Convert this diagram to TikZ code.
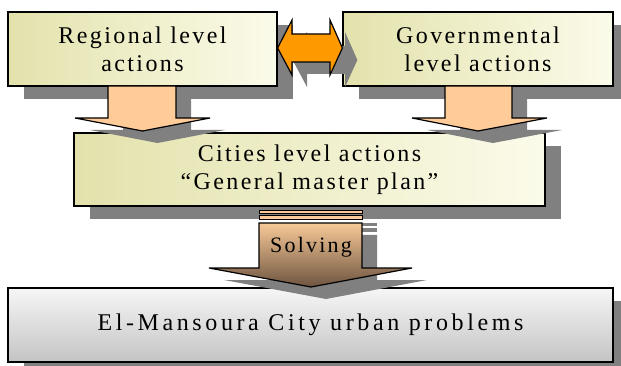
\documentclass[tikz,border=0pt]{standalone}
\usepackage{fontspec}
\setmainfont{Liberation Serif}
\newfontfamily\dfont[LetterSpace=10]{Liberation Serif}
\newfontfamily\dfontw[LetterSpace=15]{Liberation Serif}
\usetikzlibrary{shadows}
\definecolor{shadowgray}{HTML}{808080}
\definecolor{boxL}{HTML}{E3E2AC}
\definecolor{boxR}{HTML}{FBFBEA}
\definecolor{greyT}{HTML}{F6F6F6}
\definecolor{greyB}{HTML}{C4C4C4}
\definecolor{peach}{HTML}{FFCC99}
\definecolor{orangeA}{HTML}{FF9900}
\definecolor{solvT}{HTML}{F7C998}
\definecolor{solvB}{HTML}{6E5440}
\begin{document}
\begin{tikzpicture}[x=1pt,y=-1pt,
  shad/.style={drop shadow={shadow xshift=16pt, shadow yshift=-13pt, fill=shadowgray, opacity=1}},
  ashad/.style={drop shadow={shadow xshift=15pt, shadow yshift=-12pt, fill=shadowgray, opacity=1}},
  box/.style={draw=black, line width=1.2pt, shad, inner sep=0pt, align=center,
    font=\dfont\fontsize{24}{28}\selectfont},
  ybox/.style={box, left color=boxL, right color=boxR},
  gbox/.style={box, top color=greyT, bottom color=greyB},
  blockarrow/.style={draw=black, line width=1.2pt, line join=miter, ashad},
  lbl/.style={inner sep=0pt, font=\dfont\fontsize{22}{26}\selectfont}
]
\useasboundingbox (0,0) rectangle (621,366);

% boxes
\node[ybox, minimum width=269pt, minimum height=74pt] (reg) at (142.5,49) {Regional level\\actions};
\node[ybox, minimum width=270pt, minimum height=74pt] (gov) at (478,49) {Governmental\\level actions};
\node[ybox, minimum width=471pt, minimum height=73pt] (city) at (309.5,169.5) {Cities level actions\\“General master plan”};
\node[gbox, minimum width=605pt, minimum height=74pt, font=\dfontw\fontsize{24}{28}\selectfont] (bot) at (310.5,325) {El-Mansoura City urban problems};

% double arrow between regional and governmental
\path[blockarrow, fill=orangeA]
  (reg.east |- 0,48) -- (292,20) -- (292,34) -- (330,34) -- (330,20) -- (gov.west |- 0,48)
  -- (330,75) -- (330,62) -- (292,62) -- (292,75) -- cycle;

% down arrows into cities box
\path[blockarrow, fill=peach]
  (108,86) -- (176,86) -- (176,118) -- (210,118) -- (142.5,131) -- (75,118) -- (108,118) -- cycle;
\path[blockarrow, fill=peach]
  (445,86) -- (512,86) -- (512,118) -- (547,118) -- (478,131) -- (412,118) -- (445,118) -- cycle;

% solving arrow
\path[blockarrow, line width=1pt, fill=peach] (259,211) rectangle (362,214);
\path[blockarrow, line width=1pt, fill=peach] (259,216) rectangle (362,220);
\path[blockarrow, top color=solvT, bottom color=solvB]
  (259,223) -- (362,223) -- (362,268) -- (412,268) -- (311,287) -- (209,268) -- (259,268) -- cycle;
\node[lbl] (solv) at (311,247) {Solving};
\end{tikzpicture}
\end{document}
